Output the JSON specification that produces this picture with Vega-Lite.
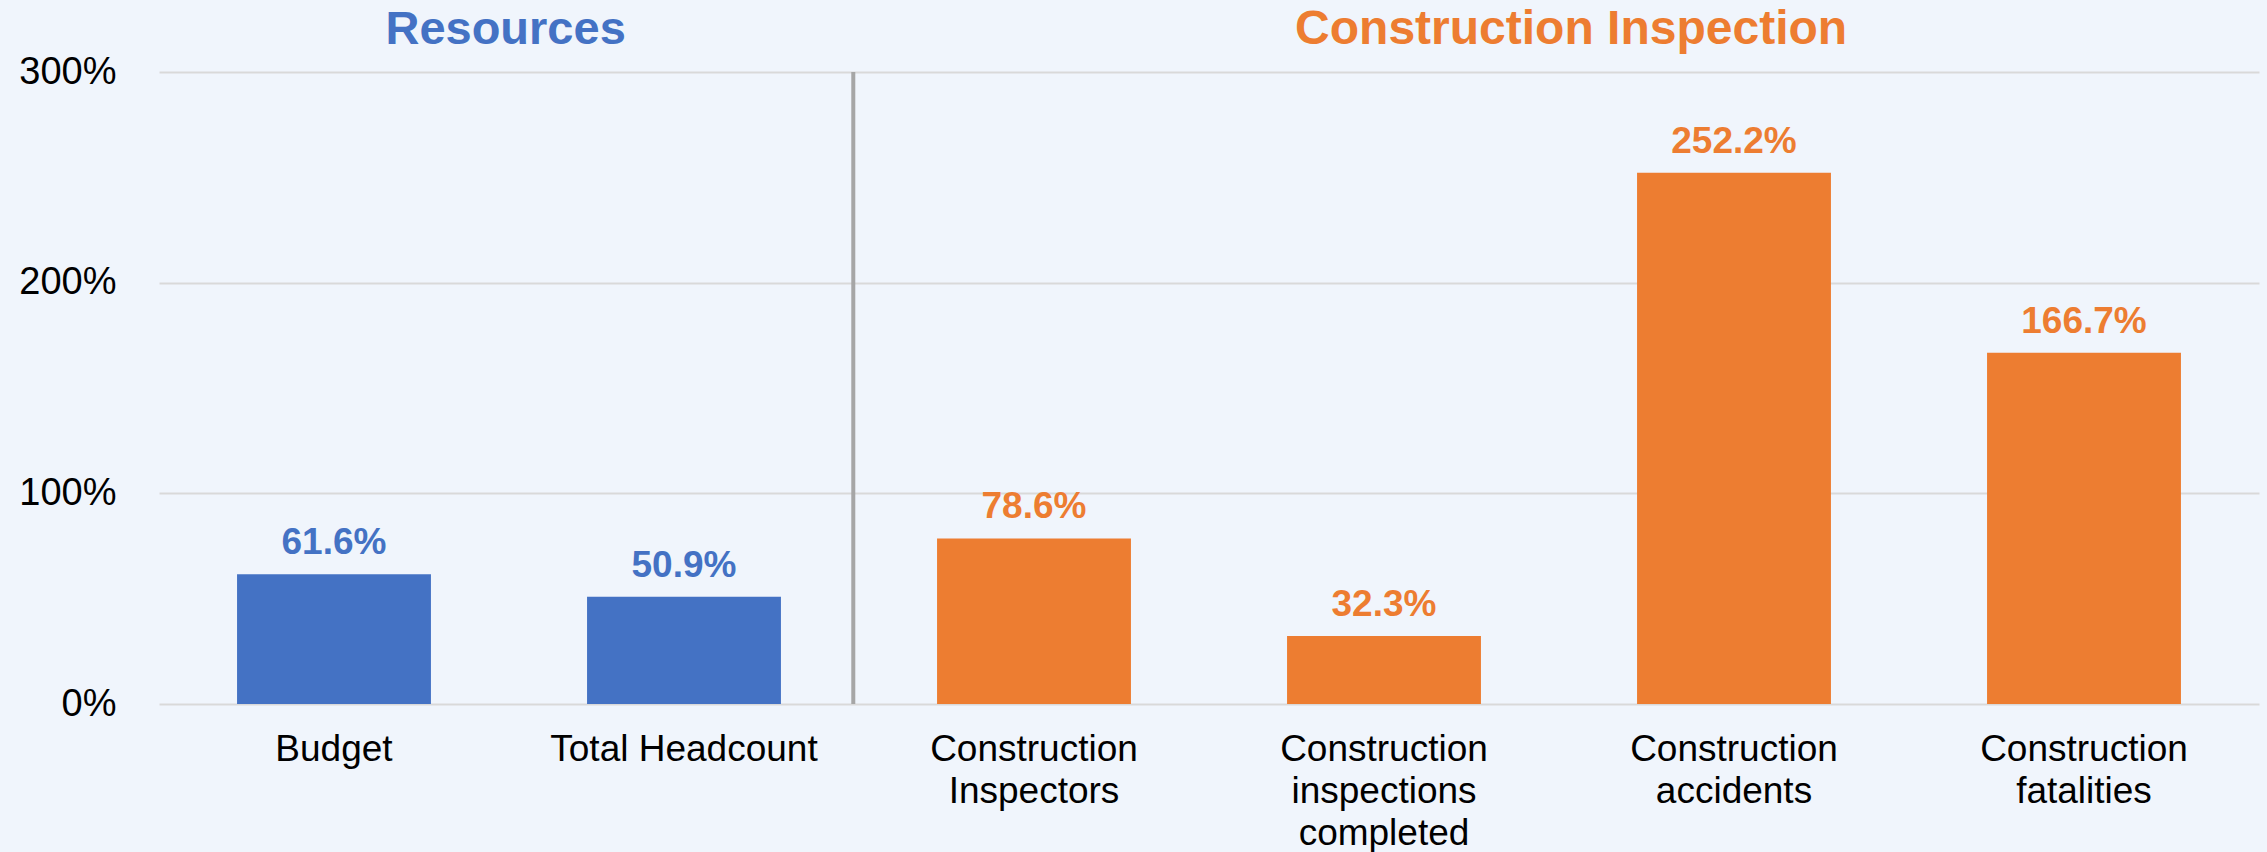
{
  "$schema": "https://vega.github.io/schema/vega-lite/v6.json",
  "width": 2100,
  "height": 632,
  "autosize": {"type": "none"},
  "padding": {"left": 159, "top": 72, "right": 8, "bottom": 148},
  "background": "#F0F5FC",
  "config": {"view": {"stroke": null}, "font": "Liberation Sans"},
  "data": {
    "values": [
      {"measure": "Budget", "group": "Resources", "value": 0.616},
      {"measure": "Total Headcount", "group": "Resources", "value": 0.509},
      {"measure": "Construction Inspectors", "group": "Construction Inspection", "value": 0.786},
      {"measure": "Construction inspections completed", "group": "Construction Inspection", "value": 0.323},
      {"measure": "Construction accidents", "group": "Construction Inspection", "value": 2.522},
      {"measure": "Construction fatalities", "group": "Construction Inspection", "value": 1.667}
    ]
  },
  "layer": [
    {
      "mark": {"type": "bar"},
      "encoding": {
        "x": {
          "field": "measure", "type": "nominal", "sort": null,
          "scale": {"paddingInner": 0.446, "paddingOuter": 0.223},
          "axis": {
            "title": null, "labelAngle": 0, "labelFontSize": 37, "labelColor": "#000000",
            "domain": false, "ticks": false, "labelPadding": 27, "labelLineHeight": 42, "labelLimit": 0,
            "labelExpr": "datum.label == 'Total Headcount' ? datum.label : split(datum.label, ' ')"
          }
        },
        "y": {
          "field": "value", "type": "quantitative",
          "scale": {"domain": [0, 3], "nice": false},
          "axis": {
            "title": null, "format": ".0%", "values": [0, 1, 2, 3], "labelFontSize": 38, "labelColor": "#000000",
            "domain": false, "ticks": false, "labelPadding": 43, "gridColor": "#D9D9D9", "gridWidth": 2
          }
        },
        "color": {
          "field": "group", "type": "nominal",
          "scale": {"domain": ["Resources", "Construction Inspection"], "range": ["#4472C4", "#ED7D31"]},
          "legend": null
        }
      }
    },
    {
      "mark": {"type": "text", "fontSize": 37, "fontWeight": "bold", "baseline": "middle", "dy": -31},
      "encoding": {
        "x": {"field": "measure", "type": "nominal", "sort": null},
        "y": {"field": "value", "type": "quantitative"},
        "text": {"field": "value", "type": "quantitative", "format": ".1%"},
        "color": {"field": "group", "type": "nominal", "legend": null}
      }
    },
    {
      "data": {"values": [{"divider": "section break"}]},
      "mark": {"type": "rule", "color": "#A6A6A6", "strokeWidth": 4},
      "encoding": {
        "x": {"datum": "Construction Inspectors", "type": "nominal", "bandPosition": -0.432},
        "y": {"datum": 0, "type": "quantitative"},
        "y2": {"datum": 3}
      }
    },
    {
      "data": {"values": [{"section": "Resources"}]},
      "mark": {"type": "text", "fontSize": 47, "fontWeight": "bold", "baseline": "middle", "color": "#4472C4"},
      "encoding": {
        "x": {"datum": "Total Headcount", "type": "nominal", "bandPosition": -0.42},
        "y": {"datum": 3.2, "type": "quantitative"},
        "text": {"field": "section"}
      }
    },
    {
      "data": {"values": [{"section": "Construction Inspection"}]},
      "mark": {"type": "text", "fontSize": 48, "fontWeight": "bold", "baseline": "middle", "color": "#ED7D31"},
      "encoding": {
        "x": {"datum": "Construction accidents", "type": "nominal", "bandPosition": -0.34},
        "y": {"datum": 3.2, "type": "quantitative"},
        "text": {"field": "section"}
      }
    }
  ]
}
